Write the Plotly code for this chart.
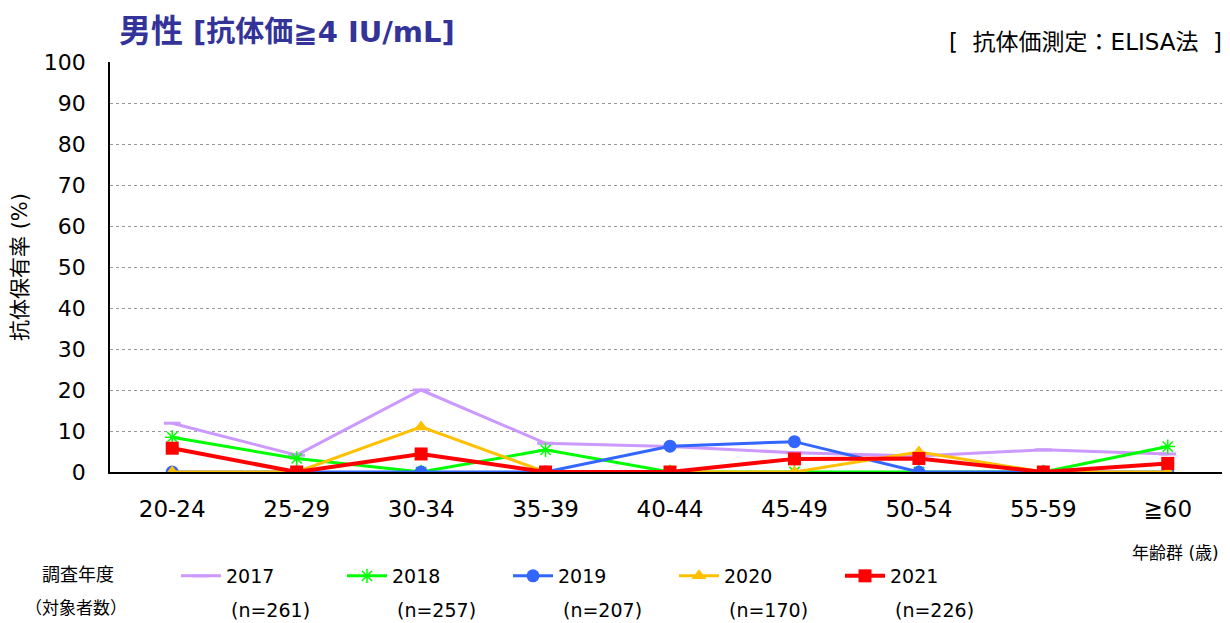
import plotly.graph_objects as go

categories = ["20-24", "25-29", "30-34", "35-39", "40-44", "45-49", "50-54", "55-59", "≧60"]
years = ["2017", "2018", "2019", "2020", "2021"]
counts = ["(n=261)", "(n=257)", "(n=207)", "(n=170)", "(n=226)"]
v2017 = [11.9, 4.1, 20.0, 7.0, 6.2, 4.7, 3.9, 5.4, 4.4]
v2018 = [8.5, 3.3, 0, 5.4, 0, 0, 0, 0, 6.2]
v2019 = [0, 0, 0, 0, 6.3, 7.4, 0, 0, 0]
v2020 = [0, 0, 11.0, 0, 0, 0, 4.9, 0, 0]
v2021 = [5.8, 0, 4.4, 0, 0, 3.2, 3.3, 0, 2.1]
series = [v2017, v2018, v2019, v2020, v2021]

colors = ["#CC99FF", "#00FF00", "#3366FF", "#FFC000", "#FF0000"]
symbols = ["line-ew-open", "asterisk-open", "circle", "triangle-up", "square"]
msizes = [12, 12, 13, 13, 13]
lwidths = [3, 3, 3, 3, 4]

FONT = "DejaVu Sans, Noto Sans CJK JP, sans-serif"
OFF = 8  # default page body margin
W, H = 1230 - OFF, 623 - OFF

fig = go.Figure()
for name, vals, c, s, ms, lw in zip(years, series, colors, symbols, msizes, lwidths):
    marker = dict(symbol=s, size=ms, color=c)
    if s.endswith("open"):
        marker["line"] = dict(color=c, width=3 if s.startswith("line") else 1.5)
    fig.add_trace(go.Scatter(x=categories, y=vals, name=name, mode="lines+markers",
                             line=dict(color=c, width=lw), marker=marker))

fig.update_layout(
    width=W, height=H,
    margin=dict(l=110 - OFF, r=0, t=62 - OFF, b=H - (472 - OFF), autoexpand=False),
    paper_bgcolor="white", plot_bgcolor="white",
    font=dict(family=FONT, color="black"),
    showlegend=True,
    legend=dict(orientation="h", xref="container", yref="container",
                x=(176 - OFF) / W, xanchor="left", y=1 - (557 - OFF) / H, yanchor="top",
                entrywidth=111, entrywidthmode="pixels", font=dict(size=19),
                bgcolor="rgba(0,0,0,0)", itemwidth=40, tracegroupgap=0),
    xaxis=dict(type="category", range=[-0.5, 8.5], showgrid=False, showline=True,
               linecolor="black", linewidth=1.5, ticks="", tickfont=dict(size=23),
               ticklabelstandoff=16, zeroline=False),
    yaxis=dict(range=[0, 100], dtick=10, showgrid=True, gridcolor="#999999",
               griddash="dot", gridwidth=1, showline=True, linecolor="black",
               linewidth=1.5, ticks="", tickfont=dict(size=22), zeroline=False,
               ticklabelstandoff=18,
               title=dict(text="抗体保有率 (%)", font=dict(size=21), standoff=12)),
)

fig.add_annotation(text="<b><span style='font-size:32px'>男性</span> [抗体価≧4 IU/mL]</b>",
                   xref="paper", yref="paper", x=(117 - 110) / 1120, y=1 + (62 - 31) / 410,
                   xanchor="left", yanchor="middle", showarrow=False,
                   font=dict(size=29, color="#333399", family=FONT))
fig.add_annotation(text="[&nbsp;&nbsp;抗体価測定：ELISA法&nbsp;&nbsp;]", xref="paper", yref="paper",
                   x=1 - 6 / 1120, y=1 + (62 - 42) / 410, xanchor="right", yanchor="middle",
                   showarrow=False, font=dict(size=23, family=FONT))
fig.add_annotation(text="年齢群 (歳)", xref="paper", yref="paper",
                   x=1 - 9 / 1120, y=-(553 - 472) / 410, xanchor="right", yanchor="middle",
                   showarrow=False, font=dict(size=17, family=FONT))
fig.add_annotation(text="調査年度", xref="paper", yref="paper",
                   x=(78 - 110) / 1120, y=-(574 - 472) / 410, xanchor="center", yanchor="middle",
                   showarrow=False, font=dict(size=18, family=FONT))
fig.add_annotation(text="（対象者数）", xref="paper", yref="paper",
                   x=(76 - 110) / 1120, y=-(608 - 472) / 410, xanchor="center", yanchor="middle",
                   showarrow=False, font=dict(size=17, family=FONT))
for i, t in enumerate(counts):
    fig.add_annotation(text=t, xref="paper", yref="paper",
                       x=(229 + 166 * i - 110) / 1120, y=-(610 - 472) / 410,
                       xanchor="left", yanchor="middle", showarrow=False,
                       font=dict(size=19, family=FONT))

fig.write_html("out.html")
